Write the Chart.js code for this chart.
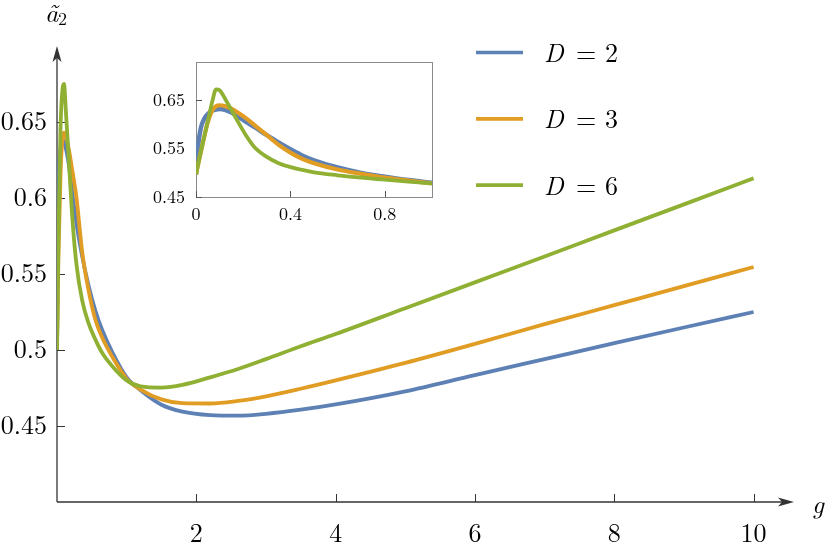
<!DOCTYPE html>
<html><head><meta charset="utf-8">
<script src="https://cdn.jsdelivr.net/npm/chart.js@4.4.1/dist/chart.umd.min.js"></script>
<style>
html,body{margin:0;padding:0;background:#fff;}
#wrap{position:relative;width:830px;height:544px;overflow:hidden;}
#main{position:absolute;left:0;top:0;}
#inset{position:absolute;left:126px;top:40px;}
</style></head><body>
<div id="wrap"><canvas id="main" width="830" height="544"></canvas><canvas id="inset" width="320" height="200"></canvas></div>
<script>
// ---- data ----
const seriesLabels = ['2', '3', '6'];
const xTicksMain = [2, 4, 6, 8, 10];
const yTicksMain = [0.45, 0.5, 0.55, 0.6, 0.65];
const xTicksInset = [0, 0.4, 0.8];
const yTicksInset = [0.45, 0.55, 0.65];

const gMain = [0, 0.02, 0.05, 0.08, 0.1, 0.13, 0.17, 0.22, 0.28, 0.36, 0.45, 0.55, 0.65, 0.8, 1.0, 1.2, 1.5, 1.8, 2.2, 2.6, 3.0, 3.5, 4, 5, 6, 7, 8, 9, 10];
const mainD2 = [0.50, 0.60, 0.632, 0.638, 0.637, 0.632, 0.622, 0.603, 0.583, 0.562, 0.543, 0.526, 0.513, 0.498, 0.482, 0.4735, 0.464, 0.4595, 0.4572, 0.4568, 0.458, 0.4607, 0.4642, 0.4728, 0.4835, 0.494, 0.5045, 0.5148, 0.525];
const mainD3 = [0.50, 0.56, 0.615, 0.64, 0.643, 0.64, 0.632, 0.618, 0.60, 0.565, 0.540, 0.520, 0.508, 0.495, 0.481, 0.474, 0.4675, 0.4650, 0.4648, 0.4665, 0.4695, 0.4745, 0.480, 0.4915, 0.504, 0.517, 0.5295, 0.542, 0.5546];
const mainD6 = [0.50, 0.57, 0.645, 0.672, 0.675, 0.655, 0.625, 0.587, 0.556, 0.533, 0.518, 0.507, 0.498, 0.489, 0.480, 0.4760, 0.4752, 0.4770, 0.482, 0.4875, 0.494, 0.5025, 0.5105, 0.5275, 0.5445, 0.5615, 0.5787, 0.5958, 0.613];

const gInset = [0, 0.01, 0.02, 0.035, 0.05, 0.07, 0.085, 0.1, 0.125, 0.15, 0.18, 0.21, 0.25, 0.3, 0.35, 0.4, 0.45, 0.5, 0.6, 0.7, 0.8, 0.9, 1.0];
const insetD2 = [0.497, 0.560, 0.592, 0.612, 0.622, 0.629, 0.631, 0.632, 0.630, 0.625, 0.616, 0.606, 0.594, 0.578, 0.563, 0.549, 0.536, 0.526, 0.511, 0.500, 0.492, 0.485, 0.4795];
const insetD3 = [0.497, 0.52, 0.542, 0.575, 0.605, 0.630, 0.638, 0.640, 0.638, 0.633, 0.624, 0.614, 0.598, 0.578, 0.558, 0.542, 0.529, 0.520, 0.507, 0.498, 0.490, 0.484, 0.478];
const insetD6 = [0.497, 0.52, 0.542, 0.575, 0.607, 0.650, 0.673, 0.671, 0.652, 0.630, 0.604, 0.579, 0.552, 0.533, 0.520, 0.512, 0.506, 0.501, 0.495, 0.490, 0.486, 0.482, 0.478];

// ---- styles ----
const COLORS = ['#5E81B5', '#E19C24', '#8FB032'];
const SERIF = '"Latin Modern Roman", "CMU Serif", "Liberation Serif", serif';
const AXIS = '#333333';

function makeDatasets(xs, series, widths) {
  return series.map((vals, i) => ({
    label: 'D = ' + seriesLabels[i],
    data: xs.map((g, j) => ({ x: g, y: vals[j] })),
    showLine: true,
    borderColor: COLORS[i],
    backgroundColor: COLORS[i],
    borderWidth: widths[i],
    pointRadius: 0,
    fill: false,
    cubicInterpolationMode: 'monotone',
    order: series.length - 1 - i
  }));
}

function arrowHead(ctx, tx, ty, dir) {
  const L = 16, w = 4.5, n = 4;
  ctx.beginPath();
  if (dir === 'right') {
    ctx.moveTo(tx, ty); ctx.lineTo(tx - L, ty - w); ctx.lineTo(tx - L + n, ty); ctx.lineTo(tx - L, ty + w);
  } else {
    ctx.moveTo(tx, ty); ctx.lineTo(tx - w, ty + L); ctx.lineTo(tx, ty + L - n); ctx.lineTo(tx + w, ty + L);
  }
  ctx.closePath(); ctx.fill();
}

const axesPlugin = {
  id: 'axesPlugin',
  beforeDatasetsDraw(chart) {
    const { ctx, chartArea: a, scales: { x, y } } = chart;
    const x0 = x.getPixelForValue(0), y0 = y.getPixelForValue(y.min);
    ctx.save();
    ctx.strokeStyle = AXIS; ctx.fillStyle = AXIS; ctx.lineWidth = 1.3;
    ctx.beginPath(); ctx.moveTo(x0, y0); ctx.lineTo(a.right - 8, y0); ctx.stroke();
    ctx.beginPath(); ctx.moveTo(x0, y0); ctx.lineTo(x0, a.top + 8); ctx.stroke();
    ctx.lineWidth = 1;
    xTicksMain.forEach(v => { const p = Math.round(x.getPixelForValue(v)) + 0.5; ctx.beginPath(); ctx.moveTo(p, y0); ctx.lineTo(p, y0 - 8); ctx.stroke(); });
    yTicksMain.forEach(v => { const p = Math.round(y.getPixelForValue(v)) + 0.5; ctx.beginPath(); ctx.moveTo(x0, p); ctx.lineTo(x0 + 8, p); ctx.stroke(); });
    arrowHead(ctx, a.right, y0, 'right');
    arrowHead(ctx, x0, a.top, 'up');
    ctx.restore();
  },
  afterDraw(chart) {
    const { ctx } = chart;
    ctx.save();
    ctx.fillStyle = '#000';
    ctx.textBaseline = 'alphabetic';
    ctx.textAlign = 'left';
    // axis titles
    ctx.font = 'italic 26px ' + SERIF;
    ctx.fillText('ã', 45, 22);
    ctx.font = '18px ' + SERIF;
    ctx.fillText('2', 58, 25);
    ctx.font = 'italic 26px ' + SERIF;
    ctx.fillText('g', 812, 513);
    // legend
    chart.data.datasets.forEach((ds, i) => {
      const yl = 52.5 + i * 66.3;
      ctx.strokeStyle = ds.borderColor; ctx.lineWidth = 3.7;
      ctx.beginPath(); ctx.moveTo(476, yl); ctx.lineTo(523, yl); ctx.stroke();
      ctx.fillStyle = '#000';
      ctx.textAlign = 'left';
      ctx.font = 'italic 26px ' + SERIF;
      ctx.fillText('D', 544, yl + 9.5);
      ctx.font = '26px ' + SERIF;
      ctx.textAlign = 'center';
      ctx.fillText('=', 586, yl + 9.5);
      ctx.fillText(seriesLabels[i], 611.5, yl + 9.5);
    });
    ctx.restore();
  }
};

const framePlugin = {
  id: 'framePlugin',
  beforeDatasetsDraw(chart) {
    const { ctx, chartArea: a, scales: { x, y } } = chart;
    ctx.save();
    ctx.fillStyle = '#fff';
    ctx.fillRect(a.left, a.top, a.width, a.height);
    ctx.strokeStyle = '#8a8a8a'; ctx.lineWidth = 1;
    ctx.strokeRect(Math.round(a.left) + 0.5, Math.round(a.top) + 0.5, Math.round(a.width), Math.round(a.height));
    ctx.strokeStyle = '#555';
    xTicksInset.forEach(v => { const p = Math.round(x.getPixelForValue(v)) + 0.5; ctx.beginPath(); ctx.moveTo(p, a.bottom); ctx.lineTo(p, a.bottom - 6); ctx.stroke(); });
    yTicksInset.forEach(v => { const p = Math.round(y.getPixelForValue(v)) + 0.5; ctx.beginPath(); ctx.moveTo(a.left, p); ctx.lineTo(a.left + 6, p); ctx.stroke(); });
    ctx.restore();
  }
};

const tickFont = (s) => ({ family: SERIF, size: s });

new Chart(document.getElementById('main'), {
  type: 'scatter',
  data: { datasets: makeDatasets(gMain, [mainD2, mainD3, mainD6], [3.8, 3.8, 3.8]) },
  options: {
    responsive: false, animation: false, events: [],
    layout: { padding: { left: 0, top: 46, right: 36, bottom: 0 } },
    plugins: { legend: { display: false }, tooltip: { enabled: false } },
    scales: {
      x: {
        type: 'linear', min: 0, max: 10.58,
        afterBuildTicks: s => { s.ticks = xTicksMain.map(v => ({ value: v })); },
        afterFit: s => { s.height = 42; },
        grid: { display: false, drawTicks: false }, border: { display: false },
        ticks: { padding: 16, color: '#000', font: tickFont(26), maxRotation: 0, autoSkip: false, callback: v => String(v) }
      },
      y: {
        type: 'linear', min: 0.40, max: 0.70,
        afterBuildTicks: s => { s.ticks = yTicksMain.map(v => ({ value: v })); },
        afterFit: s => { s.width = 57; },
        grid: { display: false, drawTicks: false }, border: { display: false },
        ticks: { padding: 10, color: '#000', font: tickFont(26), autoSkip: false, callback: v => String(v) }
      }
    }
  },
  plugins: [axesPlugin]
});

new Chart(document.getElementById('inset'), {
  type: 'scatter',
  data: { datasets: makeDatasets(gInset, [insetD2, insetD3, insetD6], [4.5, 4.2, 3.8]) },
  options: {
    responsive: false, animation: false, events: [],
    layout: { padding: { left: 0, top: 12, right: 14, bottom: 0 } },
    plugins: { legend: { display: false }, tooltip: { enabled: false } },
    scales: {
      x: {
        type: 'linear', min: 0, max: 1,
        afterBuildTicks: s => { s.ticks = xTicksInset.map(v => ({ value: v })); },
        afterFit: s => { s.height = 43; },
        grid: { display: false, drawTicks: false }, border: { display: false },
        ticks: { padding: 7, color: '#000', font: tickFont(18), maxRotation: 0, autoSkip: false, callback: v => String(v) }
      },
      y: {
        type: 'linear', min: 0.45, max: 0.73,
        afterBuildTicks: s => { s.ticks = yTicksInset.map(v => ({ value: v })); },
        afterFit: s => { s.width = 70; },
        grid: { display: false, drawTicks: false }, border: { display: false },
        ticks: { padding: 11, color: '#000', font: tickFont(18), autoSkip: false, callback: v => String(v) }
      }
    }
  },
  plugins: [framePlugin]
});
</script>
</body></html>
